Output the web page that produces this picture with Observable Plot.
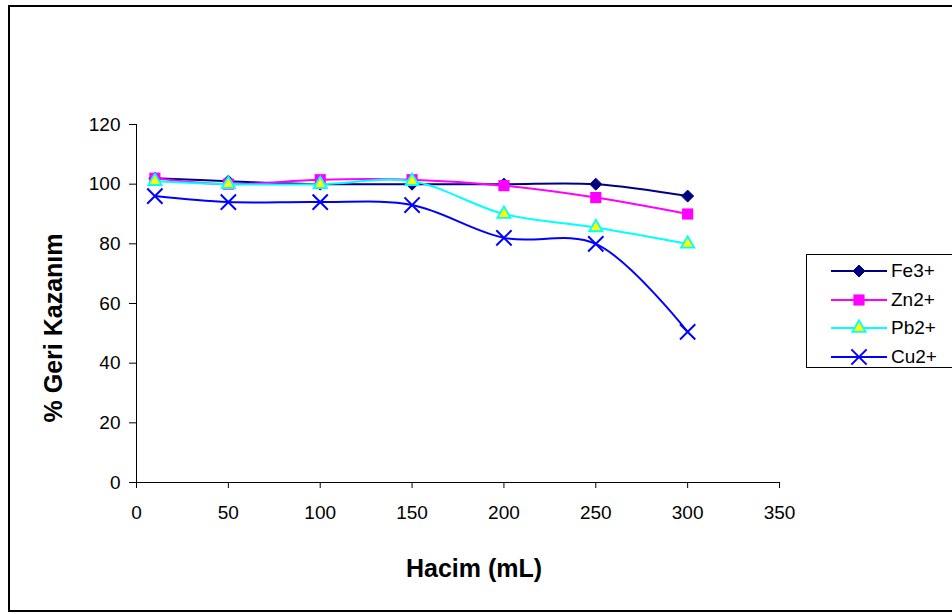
<!DOCTYPE html>
<html>
<head>
<meta charset="utf-8">
<script src="https://cdn.jsdelivr.net/npm/d3@7"></script>
<script src="https://cdn.jsdelivr.net/npm/@observablehq/plot@0.6"></script>
<style>
  html, body { margin: 0; padding: 0; background: #fff; }
  body { width: 952px; height: 614px; position: relative; overflow: hidden; font-family: "Liberation Sans", Arial, sans-serif; }
  #frame { position: absolute; left: 8px; top: 5px; width: 960px; height: 607px; border: 2px solid #000; box-sizing: border-box; }
  #chart { position: absolute; left: 0; top: 0; }
  .axlabel { position: absolute; font-weight: bold; font-size: 25px; color: #000; white-space: nowrap; }
  #legend { position: absolute; left: 806px; top: 254px; width: 150px; height: 114px; border: 1px solid #000; box-sizing: border-box; background: #fff; }
  .leg { position: absolute; left: 0; height: 28px; }
  .leg svg { position: absolute; left: 24px; top: 0; }
  .leg span { position: absolute; left: 84px; top: 3px; font-size: 19px; }
</style>
</head>
<body>
<div id="frame"></div>
<div id="chart"></div>
<div class="axlabel" id="ylab" style="left:53px; top:328px; transform: translate(-50%,-50%) rotate(-90deg);">% Geri Kazanım</div>
<div class="axlabel" id="xlab" style="left:474px; top:568px; transform: translate(-50%,-50%);">Hacim (mL)</div>
<div id="legend"></div>
<script>
const volumes = [10, 50, 100, 150, 200, 250, 300];
const seriesNames = ["Fe3+", "Zn2+", "Pb2+", "Cu2+"];
const fe = [102, 101, 100, 100, 100, 100, 96];
const zn = [102, 100, 101.5, 101.5, 99.5, 95.5, 90];
const pb = [101, 100, 100, 101, 90, 85.5, 80];
const cu = [96, 94, 94, 93, 82, 80, 50.5];
const xTicks = [0, 50, 100, 150, 200, 250, 300, 350];
const yTicks = [0, 20, 40, 60, 80, 100, 120];

const styles = {
  "Fe3+": {stroke: "#000080", symbol: "diamond2", fill: "#000080", mstroke: "#000080", r: 5.4, sw: 1},
  "Zn2+": {stroke: "#FF00FF", symbol: "square", fill: "#FF00FF", mstroke: "none", r: 6.3, sw: 1},
  "Pb2+": {stroke: "#00FFFF", symbol: "triangle", fill: "#FFFF00", mstroke: "#00FFFF", r: 4.9, sw: 1.8},
  "Cu2+": {stroke: "#0000FF", symbol: "times", fill: "none", mstroke: "#0000FF", r: 7, sw: 2}
};
const valuesBy = {"Fe3+": fe, "Zn2+": zn, "Pb2+": pb, "Cu2+": cu};

const marks = [
  Plot.ruleY([0], {stroke: "#000", strokeWidth: 1}),
  Plot.ruleX([0], {stroke: "#000", strokeWidth: 1}),
  Plot.axisX({ticks: xTicks, tickSize: 6, tickPadding: 17, fontSize: 19, label: null, stroke: "#000"}),
  Plot.axisY({ticks: yTicks, tickSize: 7, tickPadding: 9, fontSize: 19, label: null, stroke: "#000"})
];
for (const name of seriesNames) {
  const s = styles[name];
  const data = volumes.map((v, i) => ({x: v, y: valuesBy[name][i]}));
  marks.push(Plot.line(data, {x: "x", y: "y", stroke: s.stroke, strokeWidth: 2, curve: "catmull-rom"}));
  marks.push(Plot.dot(data, {x: "x", y: "y", symbol: () => s.symbol, r: s.r, fill: s.fill,
    stroke: s.mstroke, strokeWidth: s.sw}));
}

const plot = Plot.plot({
  width: 952,
  height: 614,
  marginLeft: 136,
  marginRight: 173,
  marginTop: 124,
  marginBottom: 132,
  x: {domain: [0, 350]},
  y: {domain: [0, 120]},
  style: {fontFamily: "'Liberation Sans', Arial, sans-serif", color: "#000", background: "transparent"},
  marks
});
document.getElementById("chart").appendChild(plot);

// legend
const legend = document.getElementById("legend");
const symMap = {diamond2: d3.symbolDiamond2, square: d3.symbolSquare, triangle: d3.symbolTriangle, times: d3.symbolTimes};
seriesNames.forEach((name, i) => {
  const s = styles[name];
  const row = document.createElement("div");
  row.className = "leg";
  row.style.top = (2 + i * 28.5) + "px";
  const path = d3.symbol(symMap[s.symbol], Math.PI * s.r * s.r)();
  row.innerHTML = `<svg width="60" height="28"><line x1="0" x2="56" y1="14" y2="14" stroke="${s.stroke}" stroke-width="2"/>
    <path transform="translate(28,14)" d="${path}" fill="${s.fill}" stroke="${s.mstroke}" stroke-width="${s.sw}"/></svg><span>${name}</span>`;
  legend.appendChild(row);
});
</script>
</body>
</html>
